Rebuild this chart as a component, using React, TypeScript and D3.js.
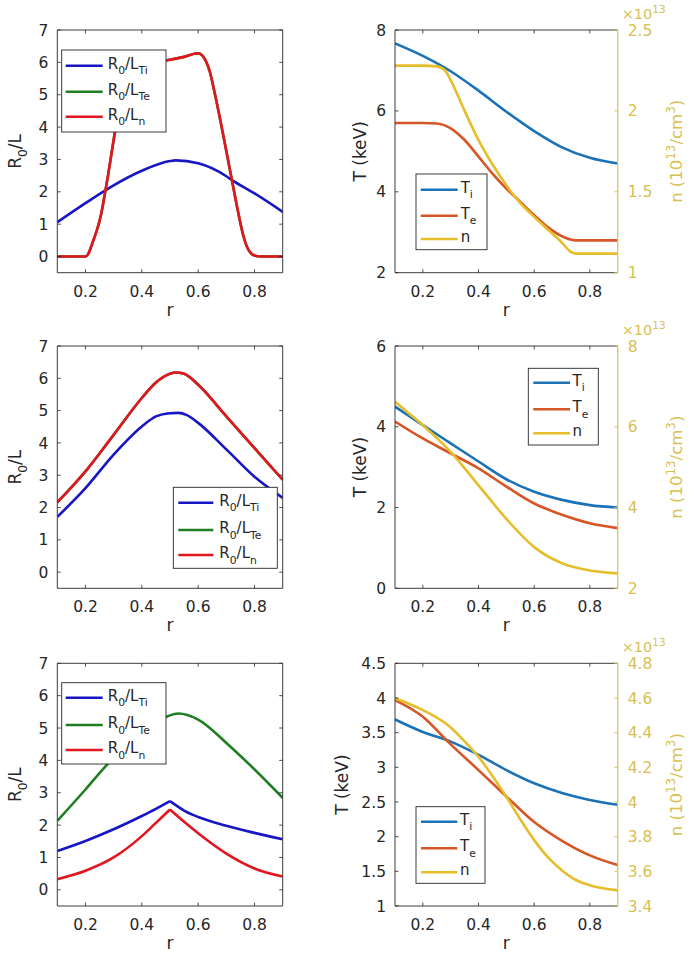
import React from "react";
import * as d3 from "d3";

// ---------- DATA ----------
const rTicks = [0.2, 0.4, 0.6, 0.8];
const leftTicksRL = [0, 1, 2, 3, 4, 5, 6, 7];

// Panel 1 (top-left)
const p1TiR = [0.1, 0.2, 0.3, 0.4, 0.5, 0.52, 0.6, 0.7, 0.72, 0.8, 0.9];
const p1TiV = [1.06, 1.65, 2.2, 2.65, 2.95, 2.97, 2.88, 2.48, 2.36, 1.95, 1.38];
const p1NR = [0.1, 0.2, 0.21, 0.22, 0.23, 0.24, 0.25, 0.26, 0.27, 0.28, 0.29, 0.3, 0.31, 0.32, 0.34, 0.37, 0.42, 0.485, 0.55, 0.6, 0.62, 0.64, 0.66, 0.68, 0.7, 0.72, 0.74, 0.76, 0.78, 0.8, 0.82, 0.9];
const p1NV = [0, 0, 0.08, 0.3, 0.55, 0.8, 1.1, 1.5, 2.0, 2.5, 3.05, 3.6, 4.15, 4.65, 5.4, 5.85, 6.0, 6.06, 6.17, 6.28, 6.15, 5.75, 5.0, 4.15, 3.25, 2.35, 1.45, 0.65, 0.18, 0.03, 0, 0];
const p1TeV = [0, 0, 0.08, 0.3, 0.55, 0.8, 1.1, 1.5, 2.0, 2.5, 3.05, 3.6, 4.15, 4.65, 5.4, 5.85, 6.0, 6.06, 6.17, 6.28, 6.15, 5.75, 5.0, 4.15, 3.25, 2.35, 1.45, 0.65, 0.18, 0.03, 0, 0];

// Panel 2 (top-right)
const p2TiR = [0.1, 0.2, 0.3, 0.4, 0.5, 0.6, 0.7, 0.8, 0.9];
const p2TiV = [7.67, 7.36, 6.98, 6.5, 5.98, 5.5, 5.1, 4.84, 4.7];
const p2TeR = [0.1, 0.2, 0.25, 0.3, 0.35, 0.4, 0.45, 0.5, 0.55, 0.6, 0.65, 0.7, 0.73, 0.75, 0.9];
const p2TeV = [5.7, 5.7, 5.69, 5.57, 5.28, 4.87, 4.45, 4.08, 3.75, 3.42, 3.12, 2.9, 2.82, 2.8, 2.8];
const p2NR = [0.1, 0.2, 0.25, 0.28, 0.3, 0.35, 0.4, 0.45, 0.5, 0.55, 0.6, 0.65, 0.7, 0.73, 0.75, 0.9];
const p2NV = [2.28, 2.28, 2.275, 2.25, 2.19, 2.0, 1.82, 1.67, 1.54, 1.43, 1.345, 1.265, 1.185, 1.13, 1.118, 1.118];
const p2LeftTicks = [2, 4, 6, 8];
const p2RightTicks = [1, 1.5, 2, 2.5];

// Panel 3 (middle-left)
const p3R = [0.1, 0.2, 0.3, 0.4, 0.45, 0.5, 0.52, 0.55, 0.6, 0.7, 0.8, 0.9];
const p3NV = [2.16, 3.12, 4.25, 5.39, 5.87, 6.14, 6.18, 6.14, 5.8, 4.82, 3.84, 2.86];
const p3TeV = [2.16, 3.12, 4.25, 5.39, 5.87, 6.14, 6.18, 6.14, 5.8, 4.82, 3.84, 2.86];
const p3TiR = [0.1, 0.2, 0.3, 0.4, 0.45, 0.5, 0.53, 0.56, 0.6, 0.7, 0.8, 0.9];
const p3TiV = [1.71, 2.6, 3.64, 4.51, 4.82, 4.92, 4.93, 4.86, 4.62, 3.8, 2.95, 2.3];

// Panel 4 (middle-right)
const p4R = [0.1, 0.2, 0.3, 0.4, 0.5, 0.6, 0.7, 0.8, 0.9];
const p4TiV = [4.5, 4.04, 3.59, 3.14, 2.7, 2.39, 2.19, 2.06, 2.0];
const p4TeV = [4.13, 3.71, 3.34, 2.97, 2.52, 2.1, 1.82, 1.61, 1.49];
const p4NR = [0.1, 0.15, 0.2, 0.3, 0.4, 0.5, 0.6, 0.7, 0.8, 0.9];
const p4NV = [6.62, 6.33, 6.04, 5.38, 4.55, 3.72, 3.02, 2.62, 2.44, 2.37];
const p4LeftTicks = [0, 2, 4, 6];
const p4RightTicks = [2, 4, 6, 8];

// Panel 5 (bottom-left)
const p5TeR = [0.1, 0.2, 0.28, 0.35, 0.42, 0.485, 0.53, 0.6, 0.7, 0.8, 0.9];
const p5TeV = [2.13, 3.1, 3.9, 4.5, 5.0, 5.34, 5.45, 5.26, 4.54, 3.72, 2.84];
const p5TiR = [0.1, 0.2, 0.3, 0.4, 0.45, 0.5, 0.55, 0.6, 0.7, 0.8, 0.9];
const p5TiV = [1.2, 1.51, 1.87, 2.28, 2.5, 2.74, 2.45, 2.25, 1.98, 1.76, 1.56];
const p5NV = [0.33, 0.59, 1.0, 1.66, 2.07, 2.48, 2.1, 1.75, 1.12, 0.66, 0.41];

// Panel 6 (bottom-right)
const p6R = [0.1, 0.2, 0.3, 0.4, 0.5, 0.6, 0.7, 0.8, 0.9];
const p6TiV = [3.69, 3.51, 3.37, 3.18, 2.96, 2.77, 2.63, 2.53, 2.46];
const p6TeV = [3.97, 3.73, 3.33, 2.96, 2.58, 2.21, 1.94, 1.73, 1.59];
const p6NR = [0.1, 0.2, 0.3, 0.35, 0.4, 0.45, 0.5, 0.55, 0.6, 0.65, 0.7, 0.75, 0.8, 0.9];
const p6NV = [4.598, 4.53, 4.43, 4.35, 4.26, 4.15, 4.03, 3.9, 3.78, 3.68, 3.605, 3.55, 3.52, 3.49];
const p6LeftTicks = [1, 1.5, 2, 2.5, 3, 3.5, 4, 4.5];
const p6RightTicks = [3.4, 3.6, 3.8, 4, 4.2, 4.4, 4.6, 4.8];

// ---------- STYLE ----------
const FONT = "'DejaVu Sans', sans-serif";
const AX = "#262626";
const YEL_AX = "#d8bf52";
const BLUE = "#1616c4";
const GREEN = "#1f7d22";
const RED = "#e3151f";
const C_TI = "#1b72b6";
const C_TE = "#d65626";
const C_N = "#e6bd2a";

type Part = { t: string; s?: "sub" | "sup" };

function Rich(props: { parts: Part[]; fs: number; [k: string]: any }) {
  const { parts, fs, ...rest } = props;
  let cur = 0;
  const kids = parts.map((p, i) => {
    const target = p.s === "sub" ? fs * 0.38 : p.s === "sup" ? -fs * 0.42 : 0;
    const dy = target - cur;
    cur = target;
    return (
      <tspan key={i} dy={dy} fontSize={p.s ? fs * 0.72 : fs}>
        {p.t}
      </tspan>
    );
  });
  return (
    <text fontSize={fs} {...rest}>
      {kids}
    </text>
  );
}

const lblRTi: Part[] = [{ t: "R" }, { t: "0", s: "sub" }, { t: "/L" }, { t: "Ti", s: "sub" }];
const lblRTe: Part[] = [{ t: "R" }, { t: "0", s: "sub" }, { t: "/L" }, { t: "Te", s: "sub" }];
const lblRn: Part[] = [{ t: "R" }, { t: "0", s: "sub" }, { t: "/L" }, { t: "n", s: "sub" }];
const lblTi: Part[] = [{ t: "T" }, { t: "i", s: "sub" }];
const lblTe: Part[] = [{ t: "T" }, { t: "e", s: "sub" }];
const lblN: Part[] = [{ t: "n" }];

interface Series {
  r: number[];
  v: number[];
  color: string;
  right?: boolean;
  split?: number;
}

interface LegendSpec {
  box: [number, number, number, number];
  rows: number[];
  lineX: [number, number];
  textX: number;
  items: { parts: Part[]; color: string }[];
  fs: number;
}

interface PanelProps {
  id: string;
  x0: number;
  x1: number;
  y0: number;
  y1: number;
  yDom: [number, number];
  yTicks: number[];
  yLabel: Part[];
  yLabelX: number;
  series: Series[];
  legend: LegendSpec;
  right?: { dom: [number, number]; ticks: number[] };
}

const fmt = (t: number) => `${+t.toFixed(2)}`;

function Panel(p: PanelProps) {
  const x = d3.scaleLinear().domain([0.1, 0.9]).range([p.x0, p.x1]);
  const y = d3.scaleLinear().domain(p.yDom).range([p.y1, p.y0]);
  const yR = p.right ? d3.scaleLinear().domain(p.right.dom).range([p.y1, p.y0]) : null;
  const TL = 3.5;
  const tickFs = 15.5;

  const paths: { d: string; color: string }[] = [];
  p.series.forEach((s) => {
    const sc = s.right && yR ? yR : y;
    const pts = s.r.map((r, i) => [r, s.v[i]] as [number, number]);
    const gen = d3
      .line<[number, number]>()
      .x((d) => x(d[0]))
      .y((d) => sc(d[1]))
      .curve(d3.curveMonotoneX);
    if (s.split !== undefined) {
      const a = pts.filter((d) => d[0] <= s.split!);
      const b = pts.filter((d) => d[0] >= s.split!);
      paths.push({ d: (gen(a) || "") + (gen(b) || ""), color: s.color });
    } else {
      paths.push({ d: gen(pts) || "", color: s.color });
    }
  });

  const lg = p.legend;
  const cy = (p.y0 + p.y1) / 2;

  return (
    <g>
      <defs>
        <clipPath id={p.id}>
          <rect x={p.x0} y={p.y0} width={p.x1 - p.x0} height={p.y1 - p.y0} />
        </clipPath>
      </defs>
      <rect x={p.x0} y={p.y0} width={p.x1 - p.x0} height={p.y1 - p.y0} fill="#fff" />
      <g clipPath={`url(#${p.id})`}>
        {paths.map((q, i) => (
          <path key={i} d={q.d} fill="none" stroke={q.color} strokeWidth={2.6} strokeLinejoin="round" />
        ))}
      </g>
      {/* box */}
      <line x1={p.x0} x2={p.x1} y1={p.y0} y2={p.y0} stroke={AX} strokeWidth={0.9} />
      <line x1={p.x0} x2={p.x1} y1={p.y1} y2={p.y1} stroke={AX} strokeWidth={0.9} />
      <line x1={p.x0} x2={p.x0} y1={p.y0} y2={p.y1} stroke={AX} strokeWidth={0.9} />
      <line x1={p.x1} x2={p.x1} y1={p.y0} y2={p.y1} stroke={yR ? YEL_AX : AX} strokeWidth={yR ? 1.2 : 0.9} />
      {/* x ticks */}
      {rTicks.map((t) => (
        <g key={"x" + t}>
          <line x1={x(t)} x2={x(t)} y1={p.y1} y2={p.y1 - TL} stroke={AX} strokeWidth={0.8} />
          <line x1={x(t)} x2={x(t)} y1={p.y0} y2={p.y0 + TL} stroke={AX} strokeWidth={0.8} />
          <text x={x(t)} y={p.y1 + 24} textAnchor="middle" fontSize={tickFs} fill={AX}>
            {fmt(t)}
          </text>
        </g>
      ))}
      {/* left y ticks */}
      {p.yTicks.map((t) => (
        <g key={"y" + t}>
          <line x1={p.x0} x2={p.x0 + TL} y1={y(t)} y2={y(t)} stroke={AX} strokeWidth={0.8} />
          {!yR && <line x1={p.x1} x2={p.x1 - TL} y1={y(t)} y2={y(t)} stroke={AX} strokeWidth={0.8} />}
          <text x={p.x0 - 9} y={y(t)} dy="0.36em" textAnchor="end" fontSize={tickFs} fill={AX}>
            {fmt(t)}
          </text>
        </g>
      ))}
      {/* right y ticks */}
      {yR &&
        p.right!.ticks.map((t) => (
          <g key={"yr" + t}>
            <line x1={p.x1} x2={p.x1 - TL} y1={yR(t)} y2={yR(t)} stroke={YEL_AX} strokeWidth={0.9} />
            <text x={p.x1 + 10} y={yR(t)} dy="0.36em" textAnchor="start" fontSize={tickFs} fill={YEL_AX}>
              {fmt(t)}
            </text>
          </g>
        ))}
      {yR && (
        <Rich
          parts={[{ t: "×10" }, { t: "13", s: "sup" }]}
          fs={14.5}
          x={p.x1 + 4}
          y={p.y0 - 11}
          fill={YEL_AX}
        />
      )}
      {yR && (
        <Rich
          parts={[{ t: "n (10" }, { t: "13", s: "sup" }, { t: "/cm" }, { t: "3", s: "sup" }, { t: ")" }]}
          fs={16.5}
          x={0}
          y={0}
          textAnchor="middle"
          fill={YEL_AX}
          transform={`translate(${682},${cy}) rotate(-90)`}
        />
      )}
      {/* labels */}
      <text x={(p.x0 + p.x1) / 2} y={p.y1 + 43} textAnchor="middle" fontSize={17} fill={AX}>
        r
      </text>
      <Rich
        parts={p.yLabel}
        fs={17}
        x={0}
        y={0}
        textAnchor="middle"
        fill={AX}
        transform={`translate(${p.yLabelX},${cy}) rotate(-90)`}
      />
      {/* legend */}
      <rect
        x={lg.box[0]}
        y={lg.box[1]}
        width={lg.box[2] - lg.box[0]}
        height={lg.box[3] - lg.box[1]}
        fill="#fff"
        stroke={AX}
        strokeWidth={0.9}
      />
      {lg.items.map((it, i) => (
        <g key={"lg" + i}>
          <line x1={lg.lineX[0]} x2={lg.lineX[1]} y1={lg.rows[i]} y2={lg.rows[i]} stroke={it.color} strokeWidth={2.6} />
          <Rich parts={it.parts} fs={lg.fs} x={lg.textX} y={lg.rows[i] + 3} fill={AX} />
        </g>
      ))}
    </g>
  );
}

const rowsY: [number, number][] = [
  [30, 272.7],
  [346, 588.3],
  [663.3, 906],
];
const LX: [number, number] = [57.3, 282.7];
const RX: [number, number] = [395, 617.7];
const RL: Part[] = [{ t: "R" }, { t: "0", s: "sub" }, { t: "/L" }];
const TK: Part[] = [{ t: "T (keV)" }];

export default function App() {
  const leftItems = (a: string, b: string, c: string) => [
    { parts: lblRTi, color: a },
    { parts: lblRTe, color: b },
    { parts: lblRn, color: c },
  ];
  const rightItems = [
    { parts: lblTi, color: C_TI },
    { parts: lblTe, color: C_TE },
    { parts: lblN, color: C_N },
  ];
  return (
    <svg
      width={699}
      height={955}
      style={{ position: "absolute", left: 0, top: 0, background: "#fff" }}
      fontFamily={FONT}
    >
      <rect width={699} height={955} fill="#fff" />
      <Panel
        id="c1"
        x0={LX[0]}
        x1={LX[1]}
        y0={rowsY[0][0]}
        y1={rowsY[0][1]}
        yDom={[-0.5, 7]}
        yTicks={leftTicksRL}
        yLabel={RL}
        yLabelX={21}
        series={[
          { r: p1TiR, v: p1TiV, color: BLUE },
          { r: p1NR, v: p1TeV, color: GREEN },
          { r: p1NR, v: p1NV, color: RED },
        ]}
        legend={{
          box: [61.7, 50, 166, 132],
          rows: [65.7, 91.7, 116.7],
          lineX: [65.7, 102.7],
          textX: 107.7,
          items: leftItems(BLUE, GREEN, RED),
          fs: 15,
        }}
      />
      <Panel
        id="c2"
        x0={RX[0]}
        x1={RX[1]}
        y0={rowsY[0][0]}
        y1={rowsY[0][1]}
        yDom={[2, 8]}
        yTicks={p2LeftTicks}
        yLabel={TK}
        yLabelX={366}
        right={{ dom: [1, 2.5], ticks: p2RightTicks }}
        series={[
          { r: p2TiR, v: p2TiV, color: C_TI },
          { r: p2TeR, v: p2TeV, color: C_TE },
          { r: p2NR, v: p2NV, color: C_N, right: true },
        ]}
        legend={{
          box: [416, 174, 487, 249.7],
          rows: [189.7, 215.7, 239],
          lineX: [420.7, 457.7],
          textX: 460.7,
          items: rightItems,
          fs: 15,
        }}
      />
      <Panel
        id="c3"
        x0={LX[0]}
        x1={LX[1]}
        y0={rowsY[1][0]}
        y1={rowsY[1][1]}
        yDom={[-0.5, 7]}
        yTicks={leftTicksRL}
        yLabel={RL}
        yLabelX={21}
        series={[
          { r: p3TiR, v: p3TiV, color: BLUE },
          { r: p3R, v: p3TeV, color: GREEN },
          { r: p3R, v: p3NV, color: RED },
        ]}
        legend={{
          box: [173.3, 487.3, 277.3, 568.3],
          rows: [502.7, 530, 555],
          lineX: [178.3, 213.3],
          textX: 219.3,
          items: leftItems(BLUE, GREEN, RED),
          fs: 15,
        }}
      />
      <Panel
        id="c4"
        x0={RX[0]}
        x1={RX[1]}
        y0={rowsY[1][0]}
        y1={rowsY[1][1]}
        yDom={[0, 6]}
        yTicks={p4LeftTicks}
        yLabel={TK}
        yLabelX={366}
        right={{ dom: [2, 8], ticks: p4RightTicks }}
        series={[
          { r: p4R, v: p4TiV, color: C_TI },
          { r: p4R, v: p4TeV, color: C_TE },
          { r: p4NR, v: p4NV, color: C_N, right: true },
        ]}
        legend={{
          box: [528.3, 368.3, 598.3, 445],
          rows: [382.7, 409.3, 433.3],
          lineX: [533.3, 570],
          textX: 572.5,
          items: rightItems,
          fs: 15,
        }}
      />
      <Panel
        id="c5"
        x0={LX[0]}
        x1={LX[1]}
        y0={rowsY[2][0]}
        y1={rowsY[2][1]}
        yDom={[-0.5, 7]}
        yTicks={leftTicksRL}
        yLabel={RL}
        yLabelX={21}
        series={[
          { r: p5TiR, v: p5TiV, color: BLUE, split: 0.5 },
          { r: p5TeR, v: p5TeV, color: GREEN },
          { r: p5TiR, v: p5NV, color: RED, split: 0.5 },
        ]}
        legend={{
          box: [61.7, 682.7, 166, 764],
          rows: [697.7, 725, 750],
          lineX: [65.7, 102.7],
          textX: 107.7,
          items: leftItems(BLUE, GREEN, RED),
          fs: 15,
        }}
      />
      <Panel
        id="c6"
        x0={RX[0]}
        x1={RX[1]}
        y0={rowsY[2][0]}
        y1={rowsY[2][1]}
        yDom={[1, 4.5]}
        yTicks={p6LeftTicks}
        yLabel={TK}
        yLabelX={348}
        right={{ dom: [3.4, 4.8], ticks: p6RightTicks }}
        series={[
          { r: p6R, v: p6TiV, color: C_TI },
          { r: p6R, v: p6TeV, color: C_TE },
          { r: p6NR, v: p6NV, color: C_N, right: true },
        ]}
        legend={{
          box: [416, 806.7, 485, 883.3],
          rows: [821.7, 848.3, 872.3],
          lineX: [421, 457.3],
          textX: 460,
          items: rightItems,
          fs: 15,
        }}
      />
    </svg>
  );
}
